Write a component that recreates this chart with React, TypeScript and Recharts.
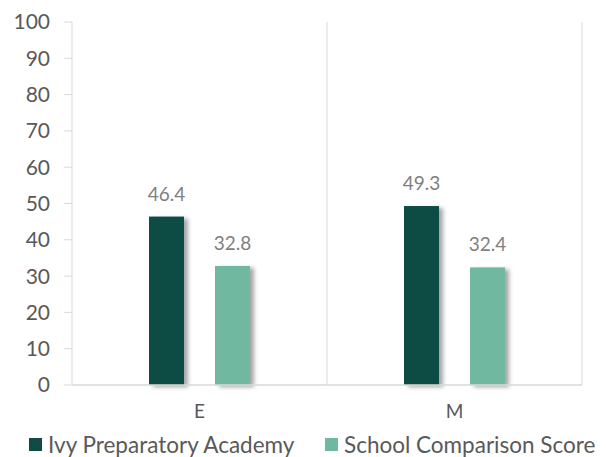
import React from "react";
import { BarChart, Bar, XAxis, YAxis, CartesianGrid, Legend, LabelList } from "recharts";

const categories = ["E", "M"];
const ivyScores = [46.4, 49.3];
const comparisonScores = [32.8, 32.4];
const yTicks = [0, 10, 20, 30, 40, 50, 60, 70, 80, 90, 100];

const seriesNames = ["Ivy Preparatory Academy", "School Comparison Score"];
const colors = ["#114b45", "#6fb89f"];

const data = categories.map((c, i) => ({
  name: c,
  ivy: ivyScores[i],
  comparison: comparisonScores[i],
}));

const FONT = "Lato, 'Open Sans', sans-serif";

function ShadowBar(props: any) {
  const { x, y, width, height, fill } = props;
  if (!height || height <= 0) return null;
  return (
    <g>
      <defs>
        <filter id="barShadow" x="-30%" y="-10%" width="170%" height="130%">
          <feDropShadow dx="4" dy="2" stdDeviation="2" floodColor="#000" floodOpacity="0.35" />
        </filter>
      </defs>
      <rect x={x} y={y} width={width} height={height} fill={fill} filter="url(#barShadow)" />
    </g>
  );
}

function LegendBox() {
  return (
    <div style={{ position: "relative", height: 32, fontFamily: FONT, fontSize: 22.5, color: "#595959" }}>
      {seriesNames.map((n, i) => (
        <div
          key={n}
          style={{
            position: "absolute",
            left: i === 0 ? 29 : 325,
            top: 6,
            display: "flex",
            alignItems: "center",
            whiteSpace: "nowrap",
          }}
        >
          <span style={{ display: "inline-block", width: 13, height: 13, background: colors[i], marginRight: 6 }} />
          <span>{n}</span>
        </div>
      ))}
    </div>
  );
}

export default function App() {
  return (
    <div style={{ position: "absolute", left: 0, top: 0, width: 606, height: 457, background: "#fff" }}>
      <BarChart
        width={606}
        height={457}
        data={data}
        margin={{ top: 22, right: 24, left: 0, bottom: 0 }}
        barSize={35}
        barGap={31}
      >
        <CartesianGrid
          horizontal={false}
          stroke="#d9d9d9"
          verticalCoordinatesGenerator={({ offset }: any) => [
            offset.left + offset.width / 2,
            offset.left + offset.width,
          ]}
        />
        <XAxis
          dataKey="name"
          axisLine={{ stroke: "#d9d9d9", strokeWidth: 1.5 }}
          tickLine={false}
          tickSize={0}
          tickMargin={20}
          height={40}
          tick={{ fill: "#595959", fontSize: 19, fontFamily: FONT }}
        />
        <YAxis
          width={72}
          domain={[0, 100]}
          ticks={yTicks}
          interval={0}
          axisLine={{ stroke: "#d9d9d9" }}
          tickLine={{ stroke: "#d9d9d9" }}
          tickSize={8}
          tickMargin={14}
          tick={{ fill: "#595959", fontSize: 21, fontFamily: FONT }}
        />
        <Legend verticalAlign="bottom" height={32} wrapperStyle={{ left: 0, width: 606 }} content={() => <LegendBox />} />
        <Bar dataKey="ivy" name={seriesNames[0]} fill={colors[0]} shape={ShadowBar} isAnimationActive={false}>
          <LabelList dataKey="ivy" position="top" offset={16} fill="#7f7f7f" fontSize={19} fontFamily={FONT} />
        </Bar>
        <Bar dataKey="comparison" name={seriesNames[1]} fill={colors[1]} shape={ShadowBar} isAnimationActive={false}>
          <LabelList dataKey="comparison" position="top" offset={16} fill="#7f7f7f" fontSize={19} fontFamily={FONT} />
        </Bar>
      </BarChart>
    </div>
  );
}
